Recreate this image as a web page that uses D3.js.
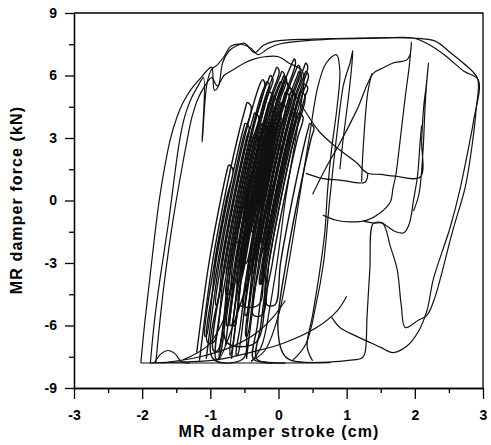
<!DOCTYPE html>
<html lang="en">
<head>
<meta charset="utf-8">
<script src="https://cdn.jsdelivr.net/npm/d3@7"></script>
<style>
  body { margin:0; padding:0; background:#ffffff; }
  .axis text { font: bold 14px "Liberation Sans", Arial, sans-serif; fill:#000; }
  .axis path, .axis line { stroke:#000; stroke-width:1.3; }
  .title { font: bold 16px "Liberation Sans", Arial, sans-serif; letter-spacing:1.1px; fill:#000; }
  .trace { fill:none; stroke:#111; stroke-width:1.2; stroke-linejoin:round; }
  .trace.core { stroke-width:1.4; }
</style>
</head>
<body>
<svg id="chart" width="491" height="445"></svg>
<script>
// tick values
var xTicks = [-3,-2,-1,0,1,2,3];
var xMinor = [-2.5,-1.5,-0.5,0.5,1.5,2.5];
var yTicks = [-9,-6,-3,0,3,6,9];
var yMinor = [-7.5,-4.5,-1.5,1.5,4.5,7.5];

// hysteresis traces, [stroke cm, force kN]
var outerLoop1 = [[-2.02,-7.8],[-1.96,-5.8],[-1.89,-3.8],[-1.82,-1.8],[-1.75,0],[-1.67,1.6],[-1.59,2.9],[-1.5,3.9],[-1.4,4.7],[-1.28,5.35],[-1.15,5.85],[-1.03,6.3],[-0.98,6.4],[-0.94,5.3],[-0.88,5.5],[-0.82,6.6],[-0.72,7.2],[-0.6,7.45],[-0.5,7.55],[-0.35,7.1],[-0.22,7.45],[-0.05,7.65],[0.5,7.75],[1.2,7.8],[1.97,7.8],[2.3,7.65],[2.52,7.1],[2.71,6.6],[2.92,5.85],[2.9,4.4],[2.85,2.9],[2.74,0.65],[2.56,-1.4],[2.37,-3.8],[2.3,-4.6],[2.18,-5.5],[2.05,-5.75],[1.86,-6.1],[1.8,-5.0],[1.74,-3.3],[1.64,-2.2],[1.53,-1.1],[1.4,-1.08],[1.25,-1.0]];
var outerLoop2 = [[-1.88,-7.8],[-1.82,-5.8],[-1.74,-3.8],[-1.62,-1.2],[-1.45,2.9],[-1.37,4.1],[-1.28,4.9],[-1.18,5.5],[-1.1,5.9],[-1.12,2.8],[-1.05,5.6],[-0.98,6.3],[-0.9,6.5],[-0.8,6.9],[-0.7,7.4],[-0.55,7.5],[-0.4,7.3],[-0.3,7.0],[-0.15,7.3],[0.0,7.5],[0.5,7.7],[1.5,7.8],[1.97,7.8],[2.2,7.5],[2.45,6.95],[2.72,6.2],[2.93,5.8],[2.86,3.8],[2.81,2.9],[2.66,0.5],[2.52,-1.27],[2.27,-3.8],[2.18,-5.26],[2.05,-6.3],[1.88,-7.0],[1.68,-7.3],[1.5,-7.05],[1.3,-6.75],[1.1,-6.45],[0.9,-6.1],[0.78,-5.6]];
var outerLoop3 = [[-1.8,-7.8],[-1.74,-5.8],[-1.67,-3.8],[-1.55,-1.0],[-1.42,1.5],[-1.34,2.9],[-1.27,4.0],[-1.18,4.9],[-1.08,5.5],[-0.98,5.9],[-0.9,5.5],[-0.8,6.0],[-0.65,6.3],[-0.5,6.6],[-0.35,6.8],[-0.2,6.9],[0.0,6.9],[0.15,6.6],[0.35,6.2],[0.3,4.0],[0.2,2.0],[0.1,0],[0.0,-2.5],[-0.12,-5],[-0.25,-7.0],[-0.4,-7.75]];
var bottomLine = [[-2.02,-7.8],[-1.5,-7.8],[-1.0,-7.8],[-0.5,-7.8],[0.0,-7.8],[0.5,-7.78],[0.9,-7.72],[1.1,-7.65],[1.2,-7.6],[1.26,-7.4],[1.3,-5.5],[1.34,-3.3],[1.39,-1.1],[1.5,-1.05],[1.6,-1.25],[1.72,-1.5],[1.84,-1.55],[1.92,-1.1],[1.98,0],[2.04,1.2],[2.08,2.9],[2.1,3.6]];
var bottomHump = [[-1.82,-7.78],[-1.72,-7.35],[-1.62,-7.2],[-1.52,-7.35],[-1.42,-7.75],[-1.3,-7.8]];
var bottomSweep1 = [[-1.89,-7.8],[-1.4,-7.75],[-0.9,-7.65],[-0.42,-7.3],[0.07,-6.85],[0.56,-6.1],[0.86,-5.3],[1.0,-4.6]];
var bottomSweep2 = [[-1.7,-7.8],[-1.15,-7.5],[-0.67,-7.0],[-0.32,-6.35],[-0.08,-5.6],[0.1,-4.8]];
var bottomSweep3 = [[-1.4,-7.65],[-1.05,-7.0],[-0.86,-6.1],[-0.75,-5.2]];
var coreA = [[-1.06,-7.6],[-0.87,-3],[-0.70,0],[-0.50,3],[-0.27,5.6],[-0.235,5.8],[-0.20,5.6],[-0.42,3],[-0.62,0],[-0.79,-3],[-0.955,-7.2],
  [-0.89,-7.2],[-0.72,-3],[-0.55,0],[-0.35,3],[-0.19,5],[-0.05,6.2],[-0.025,6.4],[0.01,6.2],[-0.11,5],[-0.27,3],[-0.47,0],[-0.64,-3],[-0.76,-6.0],
  [-0.74,-6.0],[-0.62,-3],[-0.45,0],[-0.25,3],[-0.106,4.8],[-0.09,5.0],[-0.03,4.8],[-0.17,3],[-0.37,0],[-0.54,-3],[-0.71,-7.4],
  [-0.70,-7.4],[-0.52,-3],[-0.35,0],[-0.15,3],[0.01,5],[0.20,6.6],[0.23,6.8],[0.25,6.6],[0.09,5],[-0.07,3],[-0.27,0],[-0.44,-3],[-0.52,-5.0],
  [-0.50,-5],[-0.42,-3],[-0.25,0],[-0.05,3],[0.133,5.2],[0.15,5.4],[0.21,5.2],[0.03,3],[-0.17,0],[-0.34,-3],[-0.48,-6.5],
  [-0.46,-6.5],[-0.32,-3],[-0.15,0],[0.05,3],[0.21,5],[0.375,6.4],[0.40,6.6],[0.43,6.4],[0.29,5],[0.13,3],[-0.07,0],[-0.24,-3],[-0.28,-4],
  [-0.26,-4],[-0.22,-3],[-0.05,0],[0.15,3],[0.31,5],[0.33,5.2],[0.39,5],[0.23,3],[0.03,0],[-0.14,-3],[-0.24,-5.5],
  [-0.37,-5.5],[-0.27,-3],[-0.10,0],[0.10,3],[0.26,5],[0.377,6],[0.40,6.2],[0.44,6.0],[0.34,5],[0.18,3],[-0.02,0],[-0.19,-3],[-0.31,-6],[-0.37,-7.6],[-0.2,-7.75],[0.1,-7.8]];
var coreB = [[-1.16,-7.7],[-0.97,-3],[-0.80,0],[-0.60,3],[-0.48,4.5],[-0.46,4.7],[-0.40,4.5],[-0.52,3],[-0.72,0],[-0.89,-3],[-1.04,-6.8],
  [-0.95,-6.8],[-0.79,-3],[-0.62,0],[-0.42,3],[-0.26,5],[-0.20,5.5],[-0.17,5.7],[-0.13,5.5],[-0.18,5],[-0.34,3],[-0.54,0],[-0.71,-3],[-0.77,-4.5],
  [-0.73,-4.5],[-0.67,-3],[-0.50,0],[-0.30,3],[-0.26,3.5],[-0.24,3.7],[-0.18,3.5],[-0.22,3],[-0.42,0],[-0.59,-3],[-0.71,-6],
  [-0.69,-6],[-0.57,-3],[-0.40,0],[-0.20,3],[-0.04,5],[0.053,5.8],[0.08,6.0],[0.12,5.8],[0.04,5],[-0.12,3],[-0.32,0],[-0.49,-3],
  [-0.47,-3],[-0.30,0],[-0.10,3],[0.02,4.5],[0.04,4.7],[0.10,4.5],[-0.02,3],[-0.22,0],[-0.39,-3],[-0.49,-5.5],
  [-0.47,-5.5],[-0.37,-3],[-0.20,0],[0.00,3],[0.16,5],[0.277,6.0],[0.30,6.2],[0.34,6.0],[0.24,5],[0.08,3],[-0.12,0],[-0.29,-3],[-0.26,-2.5],
  [-0.24,-2.5],[-0.10,0],[0.10,3],[0.18,4],[0.21,4.2],[0.26,4],[0.18,3],[-0.02,0],[-0.19,-3],[-0.23,-4],
  [-0.26,-4],[-0.22,-3],[-0.05,0],[0.15,3],[0.31,5],[0.357,5.4],[0.38,5.6],[0.43,5.4],[0.39,5],[0.23,3],[0.03,0],[-0.14,-3],[-0.26,-6],[-0.32,-7.6],[-0.1,-7.8]];
var coreC = [[-0.77,-3.5],[-0.58,0],[-0.38,3],[-0.35,3.2],[-0.30,3.0],[-0.50,0],[-0.61,-2],
  [-0.59,-2],[-0.48,0],[-0.28,3],[-0.16,4.5],[-0.14,4.7],[-0.08,4.5],[-0.20,3],[-0.40,0],[-0.57,-3],[-0.61,-4],
  [-0.59,-4],[-0.55,-3],[-0.38,0],[-0.18,3],[-0.14,3.5],[-0.12,3.7],[-0.06,3.5],[-0.10,3],[-0.30,0],[-0.39,-1.5],
  [-0.37,-1.5],[-0.28,0],[-0.08,3],[0.08,5],[0.10,5.2],[0.16,5.0],[0.0,3],[-0.20,0],[-0.37,-3],[-0.39,-3.5],
  [-0.41,-3.5],[-0.22,0],[-0.05,2.5],[-0.03,2.7],[0.03,2.5],[-0.14,0],[-0.25,-2],
  [-0.23,-2],[-0.12,0],[0.08,3],[0.176,4.2],[0.20,4.4],[0.26,4.2],[0.16,3],[-0.04,0],[-0.21,-3],[-0.29,-5],
  [-0.57,-5],[-0.49,-3],[-0.32,0],[-0.12,3],[-0.04,4],[-0.02,4.2],[0.04,4],[-0.04,3],[-0.24,0],[-0.30,-1],
  [-0.48,-1],[-0.42,0],[-0.22,3],[-0.06,5],[0.0,5.5],[0.03,5.7],[0.07,5.5],[0.02,5],[-0.14,3],[-0.34,0],[-0.51,-3],[-0.63,-6],[-0.69,-7.6]];
var coreD = [[-1.20,-7.3],[-1.02,-3],[-0.85,0],[-0.75,1.5],[-0.73,1.7],[-0.67,1.5],[-0.77,0],[-0.94,-3],[-1.08,-6.5],
  [-1.06,-6.5],[-0.92,-3],[-0.75,0],[-0.55,3],[-0.51,3.5],[-0.49,3.7],[-0.43,3.5],[-0.47,3],[-0.67,0],[-0.84,-3],[-0.92,-5],
  [-0.90,-5],[-0.82,-3],[-0.65,0],[-0.45,3],[-0.37,4],[-0.35,4.2],[-0.29,4],[-0.37,3],[-0.57,0],[-0.74,-3],[-0.92,-7.6],
  [-0.88,-7.6],[-0.69,-3],[-0.52,0],[-0.32,3],[-0.16,5],[-0.13,5.2],[-0.08,5.0],[-0.24,3],[-0.44,0],[-0.61,-3],[-0.76,-6.8],
  [-0.33,-6.8],[-0.17,-3],[0,0],[0.20,3],[0.28,4],[0.30,4.2],[0.36,4],[0.28,3],[0.08,0],[-0.09,-3],[-0.17,-5],
  [-0.05,-5],[0.03,-3],[0.20,0],[0.40,3],[0.44,3.5],[0.46,3.7],[0.52,3.5],[0.48,3],[0.28,0],[0.11,-3],[-0.01,-6],[0.06,-7.3],[0.17,-7.65],[0.76,-7.78]];
var coreE = [[-0.78,-7],[-0.62,-3],[-0.45,0],[-0.25,3],[-0.09,5],[0.027,6],[0.05,6.2],[0.09,6],[-0.01,5],[-0.17,3],[-0.37,0],[-0.54,-3],[-0.66,-6],
  [-0.64,-6],[-0.52,-3],[-0.35,0],[-0.15,3],[0.01,5],[0.07,5.5],[0.10,5.7],[0.14,5.5],[0.09,5],[-0.07,3],[-0.27,0],[-0.44,-3],[-0.56,-6],[-0.62,-7.4],
  [-0.60,-7.4],[-0.42,-3],[-0.25,0],[-0.05,3],[0.11,5],[0.26,6.3],[0.29,6.5],[0.32,6.3],[0.19,5],[0.03,3],[-0.17,0],[-0.34,-3],[-0.46,-6],[-0.52,-7.6],
  [-0.96,-7.6],[-0.77,-3],[-0.6,0],[-0.4,3],[-0.24,5],[-0.147,5.8],[-0.12,6.0],[-0.08,5.8],[-0.16,5],[-0.32,3],[-0.52,0],[-0.69,-3],[-0.81,-6],[-0.87,-7.6],
  [-0.37,-3],[-0.2,0],[0.0,3],[0.16,5],[0.18,5.2],[0.24,5],[0.08,3],[-0.12,0],[-0.29,-3],[-0.41,-6],[-0.47,-7.6]];
var midLoop1 = [[-0.4,-7.7],[-0.2,-7.2],[0.0,-5.5],[0.15,-3],[0.3,0],[0.45,3],[0.58,5.5],[0.7,6.6],[0.85,7.0],[0.9,6.2],[0.86,4.5],[0.78,2.5],[0.72,0.5],[0.68,-1.5],[0.6,-3.5],[0.5,-5.5],[0.42,-7.0],[0.5,-7.7]];
var midLoop2 = [[0.2,-7.7],[0.4,-6.9],[0.55,-5],[0.66,-3],[0.75,0],[0.85,3],[0.95,5.5],[1.0,6.1],[1.05,6.6],[1.09,7.2],[1.07,6.3],[1.02,4.8],[0.95,3],[0.9,1.5]];
var plateauLoop = [[0.5,0.3],[0.7,1.6],[0.9,2.75],[1.15,4.35],[1.39,6.1],[1.53,6.36],[1.68,6.6],[1.88,6.74],[1.93,7.0],[1.95,7.6],[1.92,6.5],[1.86,5.0],[1.78,2.76],[1.72,1.2],[1.68,0.6],[1.64,-0.07],[1.49,-0.6],[1.3,-0.94],[1.05,-1.03],[0.85,-0.95],[0.65,-0.7]];
var diagLoop = [[0.1,5.8],[0.35,4.5],[0.6,3.3],[0.9,2.42],[1.15,1.8],[1.3,1.32],[1.5,1.25],[1.71,1.17],[2.08,1.13],[2.1,2.9],[2.13,4.5],[2.17,5.6],[2.2,6.6],[2.17,5.5],[2.15,4.5],[2.12,2.4],[2.06,0.3],[1.98,-0.5]];
var shelfLine = [[0.4,1.3],[0.65,1.05],[0.9,0.98],[1.27,0.88],[1.31,1.32]];
var fallLine = [[1.37,6.1],[1.31,5.2],[1.24,2.4],[1.22,0.9]];

var outerTraces = [outerLoop1, outerLoop2, outerLoop3, bottomLine, bottomHump, bottomSweep1, bottomSweep2, bottomSweep3,
  midLoop1, midLoop2, plateauLoop, diagLoop, shelfLine, fallLine];
var coreTraces = [coreA, coreB, coreC, coreD, coreE];

var svg = d3.select("#chart");
var x = d3.scaleLinear().domain([-3, 3]).range([74, 483]);
var y = d3.scaleLinear().domain([-9, 9]).range([388, 13]);

var line = d3.line()
  .x(function(d){ return x(d[0]); })
  .y(function(d){ return y(d[1]); })
  .curve(d3.curveCatmullRom.alpha(0.5));

svg.append("g").selectAll("path")
  .data(outerTraces)
  .enter().append("path")
  .attr("class", "trace")
  .attr("d", line);

svg.append("g").selectAll("path")
  .data(coreTraces)
  .enter().append("path")
  .attr("class", "trace core")
  .attr("d", line);

// frame: top and right sides
svg.append("path")
  .attr("d", "M" + x(-3) + "," + y(9) + "H" + x(3) + "V" + y(-9))
  .attr("fill", "none").attr("stroke", "#000").attr("stroke-width", 1.3);

// axes
svg.append("g").attr("class", "axis")
  .attr("transform", "translate(0," + y(-9) + ")")
  .call(d3.axisBottom(x).tickValues(xTicks).tickSize(11).tickSizeOuter(0).tickPadding(11)
    .tickFormat(function(d){ return d < 0 ? "-" + Math.abs(d) : d; }));
svg.append("g").attr("class", "axis")
  .attr("transform", "translate(0," + y(-9) + ")")
  .call(d3.axisBottom(x).tickValues(xMinor).tickSize(5).tickSizeOuter(0).tickFormat(""));

svg.append("g").attr("class", "axis")
  .attr("transform", "translate(" + x(-3) + ",0)")
  .call(d3.axisLeft(y).tickValues(yTicks).tickSize(9).tickSizeOuter(0).tickPadding(8)
    .tickFormat(function(d){ return d < 0 ? "-" + Math.abs(d) : d; }));
svg.append("g").attr("class", "axis")
  .attr("transform", "translate(" + x(-3) + ",0)")
  .call(d3.axisLeft(y).tickValues(yMinor).tickSize(5).tickSizeOuter(0).tickFormat(""));

svg.append("text").attr("class", "title")
  .attr("x", 279).attr("y", 437)
  .attr("text-anchor", "middle")
  .text("MR damper stroke (cm)");

svg.append("text").attr("class", "title")
  .attr("transform", "translate(22,200) rotate(-90)")
  .attr("text-anchor", "middle")
  .text("MR damper force (kN)");
</script>
</body>
</html>
